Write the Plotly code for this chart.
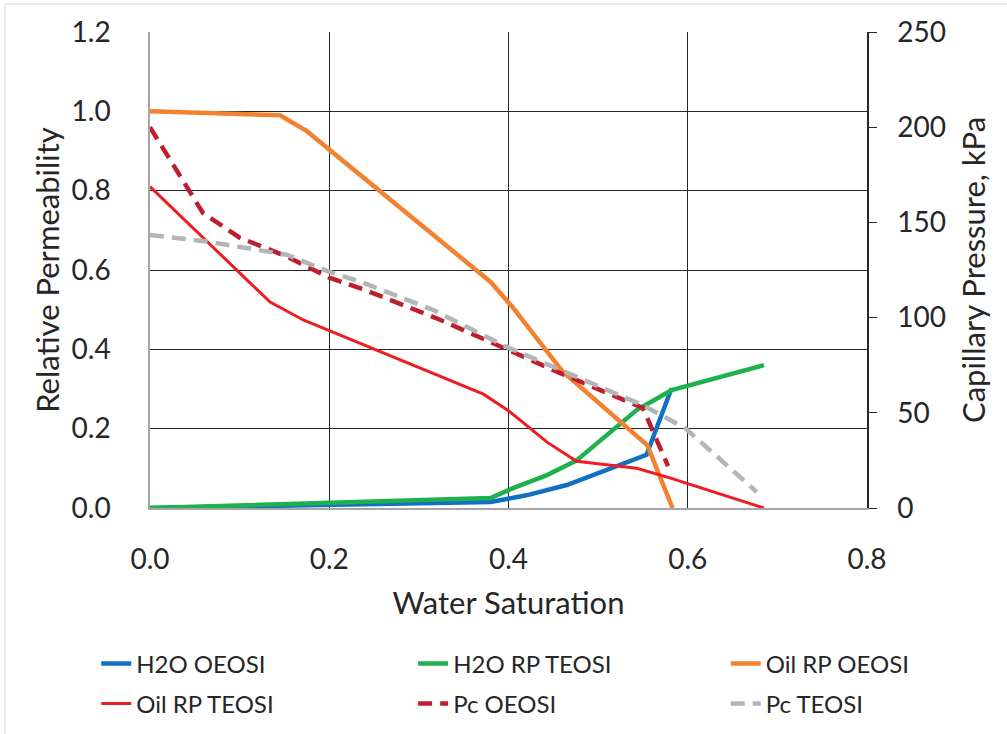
import plotly.graph_objects as go

# ---- data ----
sw_h2o_oeosi = [0.0, 0.38, 0.42, 0.465, 0.554, 0.582]
kr_h2o_oeosi = [0.0, 0.015, 0.032, 0.058, 0.134, 0.302]

sw_h2o_teosi = [0.0, 0.38, 0.405, 0.443, 0.476, 0.543, 0.582, 0.685]
kr_h2o_teosi = [0.0, 0.025, 0.05, 0.083, 0.12, 0.247, 0.297, 0.36]

sw_oil_oeosi = [0.0, 0.145, 0.175, 0.38, 0.405, 0.46, 0.555, 0.583]
kr_oil_oeosi = [1.0, 0.99, 0.95, 0.57, 0.505, 0.345, 0.158, 0.0]

sw_oil_teosi = [0.0, 0.134, 0.171, 0.372, 0.4, 0.443, 0.476, 0.543, 0.58, 0.685]
kr_oil_teosi = [0.81, 0.519, 0.474, 0.287, 0.245, 0.166, 0.118, 0.1, 0.076, 0.0]

sw_pc_oeosi = [0.0, 0.059, 0.1, 0.153, 0.2, 0.24, 0.323, 0.376, 0.457, 0.55, 0.578]
pc_oeosi = [200, 155, 142, 132, 121, 114.5, 99, 88, 71, 52.5, 22]

sw_pc_teosi = [0.0, 0.063, 0.153, 0.2, 0.234, 0.316, 0.398, 0.55, 0.597, 0.677]
pc_teosi = [143.4, 140, 133, 124, 119, 104, 84.6, 54, 42, 8.4]

x_ticks = [0.0, 0.2, 0.4, 0.6, 0.8]
y_ticks = [0.0, 0.2, 0.4, 0.6, 0.8, 1.0, 1.2]
y2_ticks = [0, 50, 100, 150, 200, 250]

FONT = "Lato"
TXT = "#262626"

fig = go.Figure()

def add(x, y, name, color, width, dash, yaxis, legend, group):
    fig.add_trace(go.Scatter(
        x=x, y=y, name=name, mode="lines", yaxis=yaxis,
        line=dict(color=color, width=width, dash=dash),
        legend=legend, legendgroup=group, hoverinfo="skip"))

add(sw_h2o_oeosi, kr_h2o_oeosi, "H2O OEOSI", "#1170c4", 4.5, "solid", "y", "legend", "a")
add(sw_h2o_teosi, kr_h2o_teosi, "H2O RP TEOSI", "#1eb14d", 4.5, "solid", "y", "legend2", "b")
add(sw_oil_oeosi, kr_oil_oeosi, "Oil RP OEOSI", "#f1822f", 4.5, "solid", "y", "legend3", "c")
add(sw_oil_teosi, kr_oil_teosi, "Oil RP TEOSI", "#ee1d23", 3, "solid", "y", "legend", "d")
add(sw_pc_oeosi, pc_oeosi, "Pc OEOSI", "#bf1e2e", 4.5, "14px,8px", "y2", "legend2", "e")
add(sw_pc_teosi, pc_teosi, "Pc TEOSI", "#b4b5b8", 4.5, "14px,8px", "y2", "legend3", "f")

leg_common = dict(orientation="v", yanchor="top", y=-0.28, xanchor="left",
                  font=dict(family=FONT, size=24, color=TXT),
                  tracegroupgap=6, bgcolor="rgba(0,0,0,0)", borderwidth=0)

fig.update_layout(
    width=1007, height=734,
    margin=dict(l=150, r=140, t=32, b=226, autoexpand=False),
    paper_bgcolor="white", plot_bgcolor="white",
    font=dict(family=FONT, color=TXT),
    showlegend=True,
    legend=dict(x=-0.075, **leg_common),
    legend2=dict(x=0.367, **leg_common),
    legend3=dict(x=0.803, **leg_common),
    xaxis=dict(range=[0, 0.8], tickvals=x_ticks, tickformat=".1f",
               showgrid=True, gridcolor="#262626", gridwidth=1.3,
               showline=True, linecolor="#a6a6a6", linewidth=1.5,
               zeroline=False, ticks="", ticklabelstandoff=26,
               tickfont=dict(family=FONT, size=28, color=TXT),
               title=dict(text="Water Saturation", standoff=18,
                          font=dict(family=FONT, size=31, color=TXT))),
    yaxis=dict(range=[0, 1.2], tickvals=y_ticks, tickformat=".1f",
               showgrid=True, gridcolor="#262626", gridwidth=1.3,
               showline=True, linecolor="#a6a6a6", linewidth=1.5,
               zeroline=False, ticks="", ticklabelstandoff=32,
               tickfont=dict(family=FONT, size=28, color=TXT),
               title=dict(text="Relative Permeability", standoff=3,
                          font=dict(family=FONT, size=31, color=TXT))),
    yaxis2=dict(range=[0, 250], tickvals=y2_ticks, overlaying="y", side="right",
                showgrid=False, showline=True, linecolor="#262626", linewidth=1.5,
                zeroline=False, ticks="outside", ticklen=8, tickcolor="#262626",
                tickwidth=1.3, ticklabelstandoff=15,
                tickfont=dict(family=FONT, size=28, color=TXT),
                title=dict(text="Capillary Pressure, kPa", standoff=18,
                           font=dict(family=FONT, size=31, color=TXT))),
    shapes=[dict(type="rect", xref="paper", yref="paper",
                 x0=-0.2022, x1=1.4, y0=-1.0, y1=1.0588,
                 line=dict(color="#d9d9d9", width=1), layer="below")],
)

fig.write_html("out.html")
